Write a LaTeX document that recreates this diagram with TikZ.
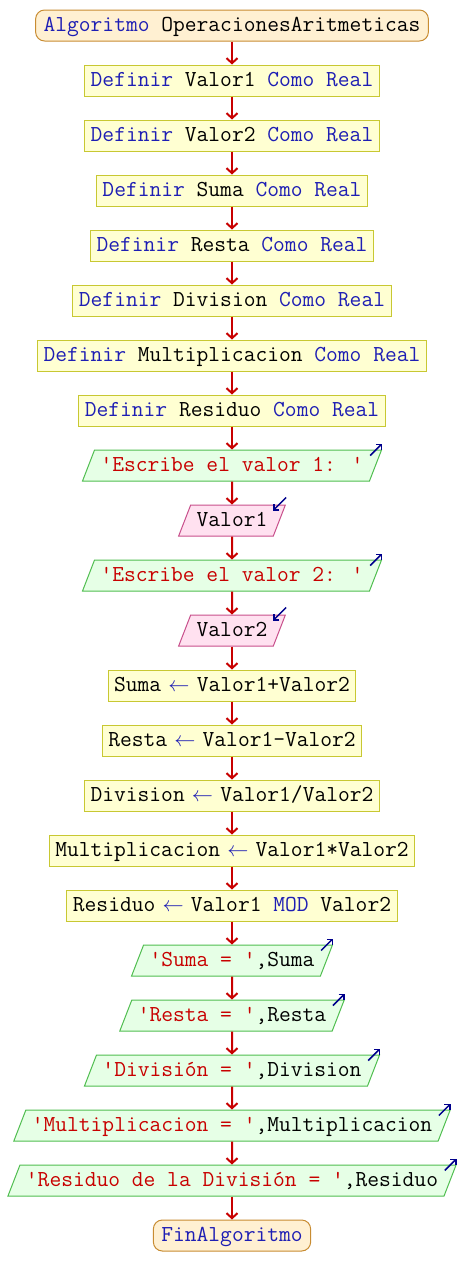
\documentclass[tikz,border=0pt]{standalone}
\usepackage{fontspec}
\usetikzlibrary{shapes.geometric,arrows.meta}

\newcommand{\clave}[1]{\textcolor{azul}{#1}}
\newcommand{\cadena}[1]{\textcolor{rojo}{#1}}
\newcommand{\asigna}{\makebox[0.525em][c]{\textcolor{azul}{\scalebox{0.85}{$\leftarrow$}}}}

\tikzset{
  base/.style={font=\ttfamily\fontsize{22.86}{26}\selectfont, text height=15pt, text depth=4pt, inner ysep=6pt, line width=1pt, text=black},
  inicio/.style={base, draw=naranja, fill=naranjaclaro, rounded corners=9pt, inner xsep=8pt},
  proceso/.style={base, draw=amarillo, fill=amarilloclaro, inner xsep=6pt},
  paralelo/.style={base, trapezium, trapezium left angle=68.8, trapezium right angle=111.2, inner xsep=6pt},
  escribir/.style={paralelo, draw=verde, fill=verdeclaro},
  leer/.style={paralelo, draw=rosa, fill=rosaclaro},
  flujo/.style={draw=rojo, line width=2pt, -{Straight Barb[length=5pt,width=11pt]}},
  marca/.style={draw=azulosc, line width=1.5pt, -{Straight Barb[length=4pt,width=8pt]}}
}

\begin{document}
\begin{tikzpicture}[x=1pt,y=1pt]
\definecolor{naranja}{RGB}{200,140,50}
\definecolor{naranjaclaro}{RGB}{255,240,210}
\definecolor{amarillo}{RGB}{200,200,50}
\definecolor{amarilloclaro}{RGB}{255,255,210}
\definecolor{verde}{RGB}{80,190,80}
\definecolor{verdeclaro}{RGB}{230,255,230}
\definecolor{rosa}{RGB}{200,80,140}
\definecolor{rosaclaro}{RGB}{255,225,240}
\definecolor{azul}{RGB}{30,30,180}
\definecolor{azulosc}{RGB}{0,0,140}
\definecolor{rojo}{RGB}{200,0,0}
	\path[fill=white] (0,0) rectangle (464,-1285);

	\node[inicio] (inicio) at (232,-25.5) {\clave{Algoritmo} OperacionesAritmeticas};
	\node[proceso] (def1) at (232,-80.5) {\clave{Definir} Valor1 \clave{Como} \clave{Real}};
	\node[proceso] (def2) at (232,-135.5) {\clave{Definir} Valor2 \clave{Como} \clave{Real}};
	\node[proceso] (def3) at (232,-190.5) {\clave{Definir} Suma \clave{Como} \clave{Real}};
	\node[proceso] (def4) at (232,-245.5) {\clave{Definir} Resta \clave{Como} \clave{Real}};
	\node[proceso] (def5) at (232,-300.5) {\clave{Definir} Division \clave{Como} \clave{Real}};
	\node[proceso] (def6) at (232,-355.5) {\clave{Definir} Multiplicacion \clave{Como} \clave{Real}};
	\node[proceso] (def7) at (232,-410.5) {\clave{Definir} Residuo \clave{Como} \clave{Real}};
	\node[escribir] (esc1) at (232,-465.5) {\cadena{'Escribe el valor 1: '}};
	\node[leer] (leer1) at (232,-520.5) {Valor1};
	\node[escribir] (esc2) at (232,-575.5) {\cadena{'Escribe el valor 2: '}};
	\node[leer] (leer2) at (232,-630.5) {Valor2};
	\node[proceso] (suma) at (232,-685.5) {Suma \asigna{} Valor1+Valor2};
	\node[proceso] (resta) at (232,-740.5) {Resta \asigna{} Valor1-Valor2};
	\node[proceso] (divi) at (232,-795.5) {Division \asigna{} Valor1/Valor2};
	\node[proceso] (mult) at (232,-850.5) {Multiplicacion \asigna{} Valor1*Valor2};
	\node[proceso] (resid) at (232,-905.5) {Residuo \asigna{} Valor1 \clave{MOD} Valor2};
	\node[escribir] (out1) at (232,-960.5) {\cadena{'Suma = '},Suma};
	\node[escribir] (out2) at (232,-1015.5) {\cadena{'Resta = '},Resta};
	\node[escribir] (out3) at (232,-1070.5) {\cadena{'División = '},Division};
	\node[escribir] (out4) at (232,-1125.5) {\cadena{'Multiplicacion = '},Multiplicacion};
	\node[escribir] (out5) at (232,-1180.5) {\cadena{'Residuo de la División = '},Residuo};
	\node[inicio] (fin) at (232,-1235.5) {\clave{FinAlgoritmo}};

	\draw[flujo] (inicio) -- (def1);
	\draw[flujo] (def1) -- (def2);
	\draw[flujo] (def2) -- (def3);
	\draw[flujo] (def3) -- (def4);
	\draw[flujo] (def4) -- (def5);
	\draw[flujo] (def5) -- (def6);
	\draw[flujo] (def6) -- (def7);
	\draw[flujo] (def7) -- (esc1);
	\draw[flujo] (esc1) -- (leer1);
	\draw[flujo] (leer1) -- (esc2);
	\draw[flujo] (esc2) -- (leer2);
	\draw[flujo] (leer2) -- (suma);
	\draw[flujo] (suma) -- (resta);
	\draw[flujo] (resta) -- (divi);
	\draw[flujo] (divi) -- (mult);
	\draw[flujo] (mult) -- (resid);
	\draw[flujo] (resid) -- (out1);
	\draw[flujo] (out1) -- (out2);
	\draw[flujo] (out2) -- (out3);
	\draw[flujo] (out3) -- (out4);
	\draw[flujo] (out4) -- (out5);
	\draw[flujo] (out5) -- (fin);

	% flechitas de entrada y salida
	\draw[marca] ([shift={(-12,-6)}]esc1.top right corner) -- ++(12,12);
	\draw[marca] ([shift={(-12,-6)}]esc2.top right corner) -- ++(12,12);
	\draw[marca] ([shift={(-12,-6)}]out1.top right corner) -- ++(12,12);
	\draw[marca] ([shift={(-12,-6)}]out2.top right corner) -- ++(12,12);
	\draw[marca] ([shift={(-12,-6)}]out3.top right corner) -- ++(12,12);
	\draw[marca] ([shift={(-12,-6)}]out4.top right corner) -- ++(12,12);
	\draw[marca] ([shift={(-12,-6)}]out5.top right corner) -- ++(12,12);
	\draw[marca] ([shift={(0,7)}]leer1.top right corner) -- ++(-13,-13);
	\draw[marca] ([shift={(0,7)}]leer2.top right corner) -- ++(-13,-13);
\end{tikzpicture}
\end{document}
